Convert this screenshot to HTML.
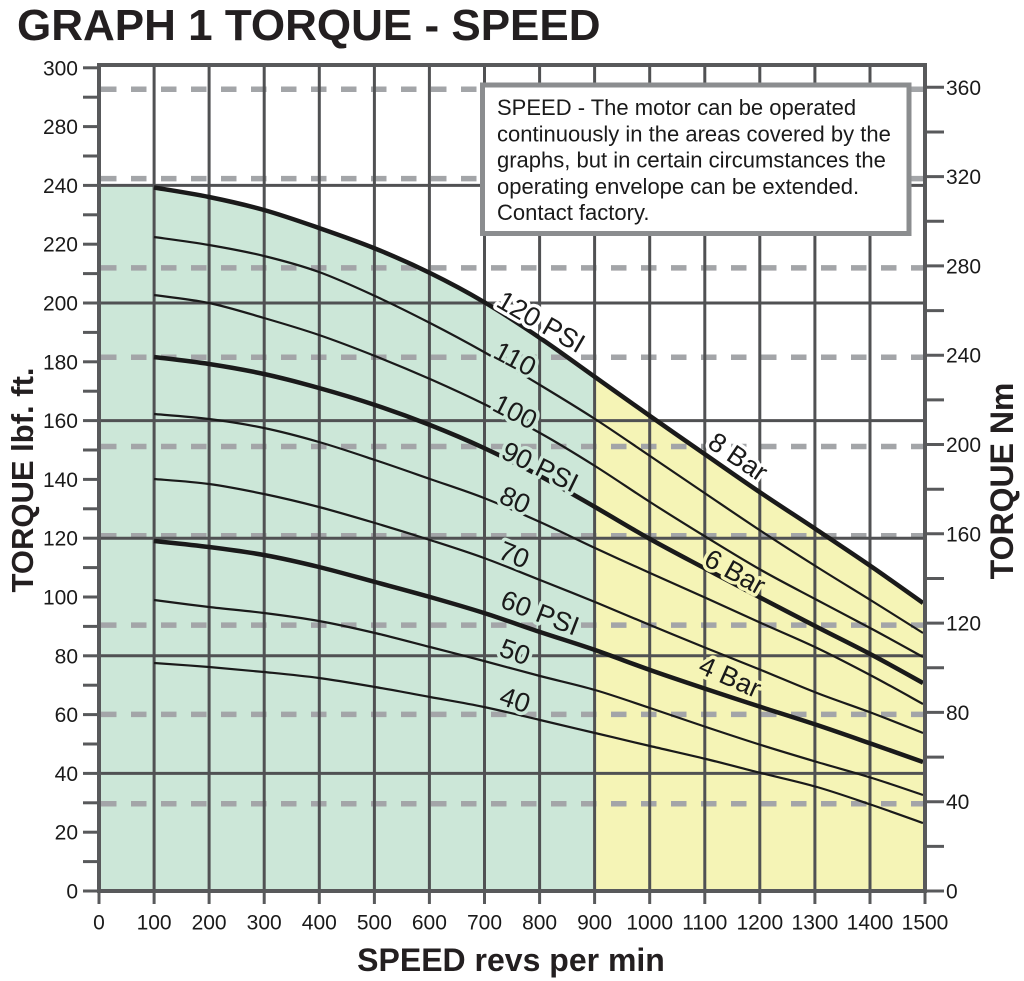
<!DOCTYPE html>
<html><head><meta charset="utf-8"><style>
html,body{margin:0;padding:0;background:#fff;}
svg{display:block;}
text{font-family:"Liberation Sans",Arial,sans-serif;}
</style></head><body>
<svg id="chart" width="1024" height="981" viewBox="0 0 1024 981" xmlns="http://www.w3.org/2000/svg">
<rect width="1024" height="981" fill="#fff"/>
<text x="17" y="40" font-size="44" font-weight="bold" fill="#231f20">GRAPH 1 TORQUE - SPEED</text>

<!-- fills -->
<path class="fillg" d="M101,185 L154,185 L154,187.5 L209,197 L264,210 L319,228 L375,248.5 L430,273 L484,302 L540,338 L595,377 L595,891 L101,891 Z" fill="#cce7d8"/>
<path d="M595,377 L650,416 L706,455 L761,493 L817,530 L872,567 L923,603 L923,891 L595,891 Z" fill="#f5f4b6"/>

<!-- dashed Nm lines -->
<g stroke="#a3a5a8" stroke-width="5.5" stroke-dasharray="15.5 14.5" fill="none">
<line x1="101" y1="89.3" x2="923" y2="89.3"/>
<line x1="101" y1="178.6" x2="923" y2="178.6"/>
<line x1="101" y1="267.9" x2="923" y2="267.9"/>
<line x1="101" y1="357.2" x2="923" y2="357.2"/>
<line x1="101" y1="446.5" x2="923" y2="446.5"/>
<line x1="101" y1="535.8" x2="923" y2="535.8"/>
<line x1="101" y1="625.1" x2="923" y2="625.1"/>
<line x1="101" y1="714.4" x2="923" y2="714.4"/>
<line x1="101" y1="803.7" x2="923" y2="803.7"/>
</g>

<!-- solid grid -->
<g stroke="#505153" stroke-width="3" fill="none">
<line x1="99" y1="185.4" x2="925" y2="185.4"/>
<line x1="99" y1="303" x2="925" y2="303"/>
<line x1="99" y1="420.6" x2="925" y2="420.6"/>
<line x1="99" y1="538.2" x2="925" y2="538.2"/>
<line x1="99" y1="655.8" x2="925" y2="655.8"/>
<line x1="99" y1="773.4" x2="925" y2="773.4"/>
<line x1="154.1" y1="65" x2="154.1" y2="891"/>
<line x1="209.1" y1="65" x2="209.1" y2="891"/>
<line x1="264.2" y1="65" x2="264.2" y2="891"/>
<line x1="319.3" y1="65" x2="319.3" y2="891"/>
<line x1="374.4" y1="65" x2="374.4" y2="891"/>
<line x1="429.4" y1="65" x2="429.4" y2="891"/>
<line x1="484.5" y1="65" x2="484.5" y2="891"/>
<line x1="539.6" y1="65" x2="539.6" y2="891"/>
<line x1="594.6" y1="65" x2="594.6" y2="891"/>
<line x1="649.7" y1="65" x2="649.7" y2="891"/>
<line x1="704.8" y1="65" x2="704.8" y2="891"/>
<line x1="759.8" y1="65" x2="759.8" y2="891"/>
<line x1="814.9" y1="65" x2="814.9" y2="891"/>
<line x1="870" y1="65" x2="870" y2="891"/>
</g>

<!-- curves -->
<g id="curves" fill="none" stroke="#1a1a1a" stroke-linejoin="round" stroke-linecap="butt">
<polyline stroke-width="4.5" points="154,187.5 209,197 264,210 319,228 375,248.5 430,273 484,302 540,338 595,377 650,416 706,455 761,493 817,530 872,567 923,603"/>
<polyline stroke-width="2.2" points="154,237 209,245 264,256 319,272 375,296 430,323 484,352 540,385 595,419 650,456 706,494 761,531 817,567 872,601 923,633"/>
<polyline stroke-width="2.2" points="154,295 209,303 264,318 319,335 375,356 430,379 484,404 540,433 595,466 650,502 706,537 761,570 817,600 872,629 923,657"/>
<polyline stroke-width="4.5" points="154,357 209,364 264,374 319,388 375,405 430,425 484,448 540,476 595,507 650,539 706,569 761,598 817,627 872,655 923,683"/>
<polyline stroke-width="2.2" points="154,414 209,419 264,428 319,442 375,460 430,479 484,498 540,522 595,548 650,573 706,598 761,623 817,648 872,676 923,704"/>
<polyline stroke-width="2.2" points="154,479 209,484 264,494 319,507 375,523 430,540 484,558 540,580 595,602 650,625 706,648 761,670 817,693 872,713 923,733"/>
<polyline stroke-width="4.5" points="154,541 209,547 264,555 319,567 375,582 430,597 484,613 540,632 595,650 650,670 706,689 761,707 817,725 872,744 923,762"/>
<polyline stroke-width="2.2" points="154,600 209,607 264,613 319,621 375,633 430,647 484,661 540,676 595,690 650,708 706,727 761,745 817,762 872,778 923,795"/>
<polyline stroke-width="2.2" points="154,663 209,667 264,672 319,678 375,687 430,697 484,707 540,720 595,733 650,746 706,759 761,773 817,787 872,805 923,823"/>
</g>

<!-- curve labels -->
<g font-size="27" fill="#1a1a1a" text-anchor="middle" dominant-baseline="central" stroke-width="7" stroke-linejoin="round" paint-order="stroke">
<text transform="translate(541,322) rotate(30)" stroke="#fff">120 PSI</text>
<text transform="translate(515,359) rotate(28)" stroke="#cce7d8">110</text>
<text transform="translate(515,412) rotate(27)" stroke="#cce7d8">100</text>
<text transform="translate(540,467) rotate(26)" stroke="#cce7d8">90 PSI</text>
<text transform="translate(515,500) rotate(24)" stroke="#cce7d8">80</text>
<text transform="translate(514,555) rotate(22)" stroke="#cce7d8">70</text>
<text transform="translate(540,613) rotate(21)" stroke="#cce7d8">60 PSI</text>
<text transform="translate(515,652) rotate(20)" stroke="#cce7d8">50</text>
<text transform="translate(515,700) rotate(19)" stroke="#cce7d8">40</text>
<text transform="translate(738,457) rotate(34)" stroke="#fff">8 Bar</text>
<text transform="translate(735,572) rotate(29)" stroke="#f5f4b6">6 Bar</text>
<text transform="translate(730,677) rotate(24)" stroke="#f5f4b6">4 Bar</text>
</g>

<!-- info box -->
<rect x="482.5" y="85" width="426.5" height="148.5" fill="#fff" stroke="#8b8d8f" stroke-width="5"/>
<g font-size="22" fill="#1a1a1a">
<text x="497" y="115">SPEED - The motor can be operated</text>
<text x="497" y="141.3">continuously in the areas covered by the</text>
<text x="497" y="167.5">graphs, but in certain circumstances the</text>
<text x="497" y="193.8">operating envelope can be extended.</text>
<text x="497" y="220">Contact factory.</text>
</g>

<!-- axes frame -->
<g stroke="#58595b" stroke-width="4" fill="none">
<line x1="97" y1="65" x2="927" y2="65"/>
<line x1="99" y1="63" x2="99" y2="893"/>
<line x1="97" y1="891" x2="927" y2="891"/>
<line x1="925" y1="63" x2="925" y2="893"/>
</g>

<!-- left ticks every 10 -->
<g stroke="#58595b" stroke-width="3">
<line x1="83" x2="99" y1="891" y2="891"/><line x1="83" x2="99" y1="861.6" y2="861.6"/>
<line x1="83" x2="99" y1="832.2" y2="832.2"/><line x1="83" x2="99" y1="802.8" y2="802.8"/>
<line x1="83" x2="99" y1="773.4" y2="773.4"/><line x1="83" x2="99" y1="744" y2="744"/>
<line x1="83" x2="99" y1="714.6" y2="714.6"/><line x1="83" x2="99" y1="685.2" y2="685.2"/>
<line x1="83" x2="99" y1="655.8" y2="655.8"/><line x1="83" x2="99" y1="626.4" y2="626.4"/>
<line x1="83" x2="99" y1="597" y2="597"/><line x1="83" x2="99" y1="567.6" y2="567.6"/>
<line x1="83" x2="99" y1="538.2" y2="538.2"/><line x1="83" x2="99" y1="508.8" y2="508.8"/>
<line x1="83" x2="99" y1="479.4" y2="479.4"/><line x1="83" x2="99" y1="450" y2="450"/>
<line x1="83" x2="99" y1="420.6" y2="420.6"/><line x1="83" x2="99" y1="391.2" y2="391.2"/>
<line x1="83" x2="99" y1="361.8" y2="361.8"/><line x1="83" x2="99" y1="332.4" y2="332.4"/>
<line x1="83" x2="99" y1="303" y2="303"/><line x1="83" x2="99" y1="273.6" y2="273.6"/>
<line x1="83" x2="99" y1="244.2" y2="244.2"/><line x1="83" x2="99" y1="214.8" y2="214.8"/>
<line x1="83" x2="99" y1="185.4" y2="185.4"/><line x1="83" x2="99" y1="156" y2="156"/>
<line x1="83" x2="99" y1="126.6" y2="126.6"/><line x1="83" x2="99" y1="97.2" y2="97.2"/>
<line x1="83" x2="99" y1="67.8" y2="67.8"/>
</g>
<g font-size="21" fill="#1a1a1a" text-anchor="end">
<text x="78" y="898.5">0</text><text x="78" y="839.7">20</text><text x="78" y="780.9">40</text>
<text x="78" y="722.1">60</text><text x="78" y="663.3">80</text><text x="78" y="604.5">100</text>
<text x="78" y="545.7">120</text><text x="78" y="486.9">140</text><text x="78" y="428.1">160</text>
<text x="78" y="369.3">180</text><text x="78" y="310.5">200</text><text x="78" y="251.7">220</text>
<text x="78" y="192.9">240</text><text x="78" y="134.1">280</text><text x="78" y="75.3">300</text>
</g>

<!-- right ticks every 20 Nm -->
<g stroke="#58595b" stroke-width="3">
<line x1="925" x2="944" y1="891" y2="891"/><line x1="925" x2="944" y1="846.4" y2="846.4"/>
<line x1="925" x2="944" y1="801.7" y2="801.7"/><line x1="925" x2="944" y1="757.1" y2="757.1"/>
<line x1="925" x2="944" y1="712.4" y2="712.4"/><line x1="925" x2="944" y1="667.8" y2="667.8"/>
<line x1="925" x2="944" y1="623.1" y2="623.1"/><line x1="925" x2="944" y1="578.5" y2="578.5"/>
<line x1="925" x2="944" y1="533.8" y2="533.8"/><line x1="925" x2="944" y1="489.2" y2="489.2"/>
<line x1="925" x2="944" y1="444.5" y2="444.5"/><line x1="925" x2="944" y1="399.9" y2="399.9"/>
<line x1="925" x2="944" y1="355.2" y2="355.2"/><line x1="925" x2="944" y1="310.6" y2="310.6"/>
<line x1="925" x2="944" y1="265.9" y2="265.9"/><line x1="925" x2="944" y1="221.3" y2="221.3"/>
<line x1="925" x2="944" y1="176.6" y2="176.6"/><line x1="925" x2="944" y1="132" y2="132"/>
<line x1="925" x2="944" y1="87.3" y2="87.3"/>
</g>
<g font-size="21" fill="#1a1a1a">
<text x="946" y="898.5">0</text><text x="946" y="809.2">40</text><text x="946" y="719.9">80</text>
<text x="946" y="630.6">120</text><text x="946" y="541.3">160</text><text x="946" y="452">200</text>
<text x="946" y="362.7">240</text><text x="946" y="273.4">280</text><text x="946" y="184.1">320</text>
<text x="946" y="94.8">360</text>
</g>

<!-- bottom ticks -->
<g stroke="#58595b" stroke-width="3">
<line x1="99" x2="99" y1="891" y2="904"/><line x1="154.1" x2="154.1" y1="891" y2="904"/>
<line x1="209.1" x2="209.1" y1="891" y2="904"/><line x1="264.2" x2="264.2" y1="891" y2="904"/>
<line x1="319.3" x2="319.3" y1="891" y2="904"/><line x1="374.4" x2="374.4" y1="891" y2="904"/>
<line x1="429.4" x2="429.4" y1="891" y2="904"/><line x1="484.5" x2="484.5" y1="891" y2="904"/>
<line x1="539.6" x2="539.6" y1="891" y2="904"/><line x1="594.6" x2="594.6" y1="891" y2="904"/>
<line x1="649.7" x2="649.7" y1="891" y2="904"/><line x1="704.8" x2="704.8" y1="891" y2="904"/>
<line x1="759.8" x2="759.8" y1="891" y2="904"/><line x1="814.9" x2="814.9" y1="891" y2="904"/>
<line x1="870" x2="870" y1="891" y2="904"/><line x1="925" x2="925" y1="891" y2="904"/>
</g>
<g font-size="21" fill="#1a1a1a" text-anchor="middle">
<text x="99" y="929.5">0</text><text x="154.1" y="929.5">100</text><text x="209.1" y="929.5">200</text>
<text x="264.2" y="929.5">300</text><text x="319.3" y="929.5">400</text><text x="374.4" y="929.5">500</text>
<text x="429.4" y="929.5">600</text><text x="484.5" y="929.5">700</text><text x="539.6" y="929.5">800</text>
<text x="594.6" y="929.5">900</text><text x="649.7" y="929.5">1000</text><text x="704.8" y="929.5">1100</text>
<text x="759.8" y="929.5">1200</text><text x="814.9" y="929.5">1300</text><text x="870" y="929.5">1400</text>
<text x="925" y="929.5">1500</text>
</g>

<!-- axis titles -->
<text x="511" y="971" font-size="32" font-weight="bold" fill="#231f20" text-anchor="middle">SPEED revs per min</text>
<text transform="translate(33,480) rotate(-90)" font-size="31" font-weight="bold" fill="#231f20" text-anchor="middle">TORQUE lbf. ft.</text>
<text transform="translate(1013,481) rotate(-90)" font-size="32" font-weight="bold" fill="#231f20" text-anchor="middle">TORQUE Nm</text>
</svg>
<script>
(function(){
  var NS="http://www.w3.org/2000/svg";
  function smooth(pts){
    var d="M"+pts[0][0]+","+pts[0][1];
    for(var i=0;i<pts.length-1;i++){
      var p0=pts[i>0?i-1:i],p1=pts[i],p2=pts[i+1],p3=pts[i+2<pts.length?i+2:i+1];
      var c1x=p1[0]+(p2[0]-p0[0])/6,c1y=p1[1]+(p2[1]-p0[1])/6;
      var c2x=p2[0]-(p3[0]-p1[0])/6,c2y=p2[1]-(p3[1]-p1[1])/6;
      d+=" C"+c1x.toFixed(2)+","+c1y.toFixed(2)+" "+c2x.toFixed(2)+","+c2y.toFixed(2)+" "+p2[0]+","+p2[1];
    }
    return d;
  }
  var pls=document.querySelectorAll("#curves polyline");
  var first=null;
  for(var k=0;k<pls.length;k++){
    var pl=pls[k];
    var pts=pl.getAttribute("points").trim().split(/\s+/).map(function(s){var a=s.split(",");return [parseFloat(a[0]),parseFloat(a[1])];});
    var path=document.createElementNS(NS,"path");
    path.setAttribute("d",smooth(pts));
    path.setAttribute("stroke-width",pl.getAttribute("stroke-width"));
    pl.parentNode.replaceChild(path,pl);
    if(k===0) first=pts;
  }
  if(first){
    var g=document.querySelector(".fillg");
    var sub=first.slice(0,9);
    var d=smooth(sub).replace(/^M[^ ]+/,"M101,185 L154,185 L"+sub[0][0]+","+sub[0][1]);
    d+=" L595,891 L101,891 Z";
    g.setAttribute("d",d);
  }
})();
</script>
</body></html>
